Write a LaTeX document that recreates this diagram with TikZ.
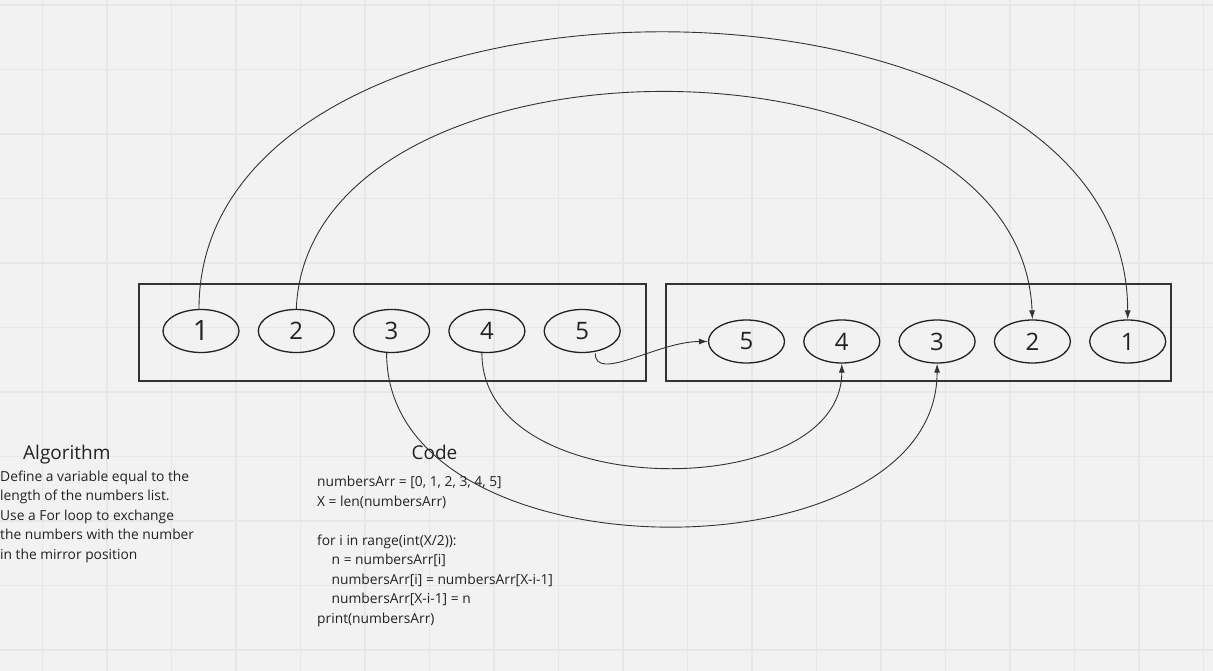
\documentclass[tikz,border=0pt]{standalone}
\usepackage{fontspec}
\setmainfont{Open Sans}
\usetikzlibrary{shapes.geometric,arrows.meta,positioning}
\definecolor{paper}{HTML}{F2F2F2}
\definecolor{gridline}{HTML}{E7E7E7}
\definecolor{ink}{HTML}{333333}
\definecolor{txt}{HTML}{222222}
\tikzset{
    frame/.style = {draw=ink, line width=1.8pt, rectangle, minimum width=507pt, minimum height=97pt, inner sep=0pt},
    num/.style   = {draw=txt, line width=1.3pt, ellipse, minimum width=76pt, minimum height=43pt, inner sep=0pt,
                    font=\fontsize{24}{24}\selectfont, text=txt},
    link/.style  = {->, draw=ink, line width=0.9pt},
    title/.style = {font=\fontsize{19}{22}\selectfont, text=txt, inner sep=0pt},
    body/.style  = {font=\fontsize{13.8}{19.5}\selectfont, align=left, inner sep=0pt, text=txt}
}

\begin{document}
\begin{tikzpicture}[x=1pt, y=-1pt, node distance=95.3pt, >={Latex[length=9pt,width=6pt]}]
    \useasboundingbox (0,0) rectangle (1213,671);
    \fill[paper] (0,0) rectangle (1213,671);
    % background grid
    \foreach \gx in {0,...,18} \draw[gridline, line width=1.5pt] (42.5+64.5*\gx,0) -- (42.5+64.5*\gx,671);
    \foreach \gy in {0,...,10} \draw[gridline, line width=1.5pt] (0,5+64.5*\gy) -- (1213,5+64.5*\gy);

    \node [frame]                          (leftbox)  at (392.5,332.5) {};
    \node [frame, minimum width=505pt]     (rightbox) at (918.5,332.5) {};

    \node [num, font=\fontsize{28}{28}\selectfont] (l1) at (201,331) {1};
    \node [num, right of=l1]               (l2) {2};
    \node [num, right of=l2]               (l3) {3};
    \node [num, right of=l3]               (l4) {4};
    \node [num, right of=l4]               (l5) {5};

    \node [num]                            (r5) at (746.5,341.5) {5};
    \node [num, right of=r5]               (r4) {4};
    \node [num, right of=r4]               (r3) {3};
    \node [num, right of=r3]               (r2) {2};
    \node [num, right of=r2]               (r1) {1};

    % base of a multi-line node = its last line
    \node [title, anchor=base west] (algtitle)  at (23,459)    {Algorithm};
    \node [body, anchor=base west]  (algtext)   at (0,559)     {Define a variable equal to the\\length of the numbers list.\\Use a For loop to exchange\\the numbers with the number\\in the mirror position};
    \node [title, anchor=base]      (codetitle) at (434.5,459) {Code};
    \node [body, anchor=base west]  (codetext)  at (317,623) {numbersArr = [0, 1, 2, 3, 4, 5]\\X = len(numbersArr)\\[19.5pt]for i in range(int(X/2)):\\\hspace*{14.5pt}n = numbersArr[i]\\\hspace*{14.5pt}numbersArr[i] = numbersArr[X-i-1]\\\hspace*{14.5pt}numbersArr[X-i-1] = n\\print(numbersArr)};

    \draw [link] ([xshift=-2pt]l1.north) .. controls +(0,-370) and +(0,-380) .. (r1.north);
    \draw [link] (l2.north) .. controls +(12,-290) and +(-12,-301) .. (r2.north);
    \draw [link] ([xshift=-5pt]l3.south) .. controls +(0,229) and +(0,218) .. (r3.south);
    \draw [link] ([xshift=-5pt]l4.south) .. controls +(0,151) and +(0,140) .. (r4.south);
    \draw [link] ([xshift=13pt]l5.south) .. controls +(0,30) and +(-50,0) .. (r5.west);
\end{tikzpicture}
\end{document}
